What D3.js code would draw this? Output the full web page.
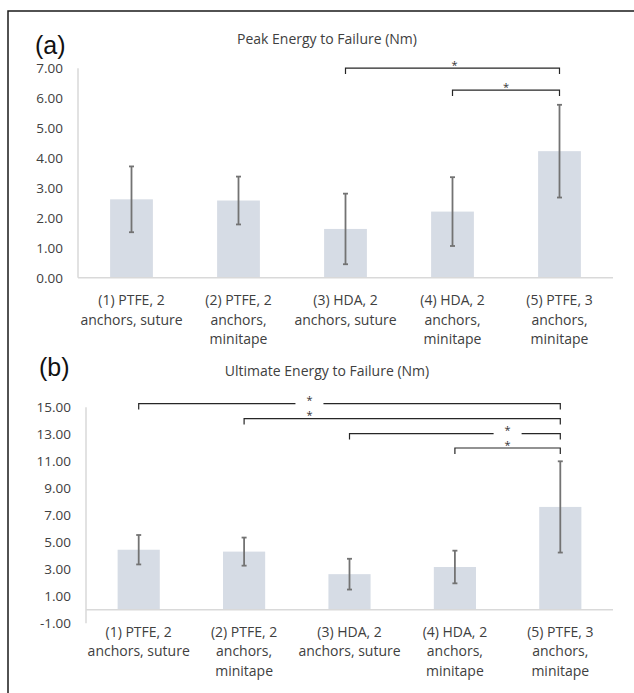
<!DOCTYPE html>
<html>
<head>
<meta charset="utf-8">
<script src="https://cdn.jsdelivr.net/npm/d3@7"></script>
<style>
  body { margin: 0; background: #fff; }
  svg text { font-family: 'Open Sans', 'Noto Sans', sans-serif; fill: #404040; }
</style>
</head>
<body>
<div id="graf"></div>
<script>
// datos
const categorias = [
  '(1) PTFE, 2\nanchors, suture',
  '(2) PTFE, 2\nanchors,\nminitape',
  '(3) HDA, 2\nanchors, suture',
  '(4) HDA, 2\nanchors,\nminitape',
  '(5) PTFE, 3\nanchors,\nminitape'
]

const tituloA = 'Peak Energy to Failure (Nm)'
const mediasA = [2.62, 2.58, 1.63, 2.21, 4.23]
const erroresA = [1.10, 0.80, 1.18, 1.15, 1.55]
const ticksA = [0, 1, 2, 3, 4, 5, 6, 7]
const compA = [[3, 5], [4, 5]]

const tituloB = 'Ultimate Energy to Failure (Nm)'
const mediasB = [4.45, 4.31, 2.64, 3.17, 7.62]
const erroresB = [1.09, 1.04, 1.14, 1.21, 3.38]
const ticksB = [-1, 1, 3, 5, 7, 9, 11, 13, 15]
const compB = [[1, 5], [2, 5], [3, 5], [4, 5]]

const ancho_total = 634
const alto_total = 693

const svg = d3.select('#graf').append('svg')
  .attr('width', ancho_total)
  .attr('height', alto_total)

// marco exterior (solo arriba e izquierda)
svg.append('path')
  .attr('d', `M8,${alto_total} V11 H${ancho_total}`)
  .attr('fill', 'none')
  .attr('stroke', '#1a1a1a')
  .attr('stroke-width', 1.5)

function dibujarPanel(p) {
  const x = d3.scaleBand()
    .domain(d3.range(categorias.length))
    .range([p.x0, p.x1])
    .paddingInner(0.6)
    .paddingOuter(0.3)
  const paso = x.step()
  const cx = i => x(i) + x.bandwidth() / 2

  const y = d3.scaleLinear()
    .domain([p.ticks[0], p.ticks[p.ticks.length - 1]])
    .range([p.yBot, p.yTop])

  const g = svg.append('g')

  // letra del panel y titulo
  g.append('text')
    .attr('x', p.letraX).attr('y', p.letraY)
    .style('font-family', "'Liberation Sans', Arial, sans-serif")
    .style('font-size', '25px')
    .style('fill', '#111')
    .text(p.letra)

  g.append('text')
    .attr('x', 327).attr('y', p.tituloY)
    .attr('text-anchor', 'middle')
    .style('font-size', '14px')
    .text(p.titulo)

  // eje y: solo etiquetas
  const yAxisCall = d3.axisLeft(y)
    .tickValues(p.ticks)
    .tickFormat(d => d.toFixed(2))
    .tickSize(0)
    .tickPadding(15)
  const yAxisGroup = g.append('g')
    .attr('transform', `translate(${p.x0}, 0)`)
    .call(yAxisCall)
  yAxisGroup.select('.domain').remove()
  yAxisGroup.selectAll('text')
    .style('font-size', '13.5px')
  yAxisGroup.attr('font-family', null)

  // lineas de los ejes
  g.append('line')
    .attr('x1', p.x0).attr('x2', p.x0)
    .attr('y1', y.range()[0]).attr('y2', y.range()[1])
    .attr('stroke', '#d9d9d9').attr('stroke-width', 1.5)

  // barras
  g.selectAll('rect.barra')
    .data(p.medias)
    .enter()
    .append('rect')
      .attr('class', 'barra')
      .attr('x', (d, i) => x(i))
      .attr('width', x.bandwidth())
      .attr('y', d => y(d))
      .attr('height', d => y(0) - y(d))
      .attr('fill', '#d6dce5')

  g.append('line')
    .attr('x1', p.x0).attr('x2', p.x1)
    .attr('y1', y(0)).attr('y2', y(0))
    .attr('stroke', '#d9d9d9').attr('stroke-width', 1.5)

  // barras de error
  const err = g.selectAll('g.err')
    .data(p.medias)
    .enter()
    .append('g')
      .attr('class', 'err')
      .attr('stroke', '#737373')
      .attr('stroke-width', 1.8)
  err.append('line')
    .attr('x1', (d, i) => cx(i)).attr('x2', (d, i) => cx(i))
    .attr('y1', (d, i) => y(d + p.errores[i]))
    .attr('y2', (d, i) => y(d - p.errores[i]))
  err.append('line')
    .attr('x1', (d, i) => cx(i) - 2.5).attr('x2', (d, i) => cx(i) + 2.5)
    .attr('y1', (d, i) => y(d + p.errores[i]))
    .attr('y2', (d, i) => y(d + p.errores[i]))
  err.append('line')
    .attr('x1', (d, i) => cx(i) - 2.5).attr('x2', (d, i) => cx(i) + 2.5)
    .attr('y1', (d, i) => y(d - p.errores[i]))
    .attr('y2', (d, i) => y(d - p.errores[i]))

  // etiquetas del eje x con varias lineas
  g.selectAll('text.cat')
    .data(categorias)
    .enter()
    .append('text')
      .attr('class', 'cat')
      .attr('text-anchor', 'middle')
      .attr('y', p.catY)
      .style('font-size', '14px')
    .selectAll('tspan')
    .data((d, i) => d.split('\n').map(t => ({ t, i })))
    .enter()
    .append('tspan')
      .attr('x', d => cx(d.i))
      .attr('dy', (d, j) => j === 0 ? 0 : 19.5)
      .text(d => d.t)

  // corchetes de significancia
  const idx5 = categorias.length - 1
  const techo = y(p.medias[idx5] + p.errores[idx5])
  const niveles = p.comp.map((c, k) => techo - p.gaps[p.comp.length - 1 - k])

  g.selectAll('path.corchete')
    .data(p.comp)
    .enter()
    .append('path')
      .attr('class', 'corchete')
      .attr('d', (c, k) => `M${cx(c[0] - 1)},${niveles[k] + 6} V${niveles[k]} H${cx(c[1] - 1)} V${niveles[k] + 6}`)
      .attr('fill', 'none')
      .attr('stroke', '#262626')
      .attr('stroke-width', 1.2)

  // hueco blanco en la linea de arriba, detras de algunas estrellas
  p.comp.forEach((c, k) => {
    if (!p.tapa[k]) return
    const sx = p.x0 + p.estrellas[k] * paso
    g.append('rect')
      .attr('x', sx - 14).attr('y', niveles[k - 1] - 2.5)
      .attr('width', 28).attr('height', 5)
      .attr('fill', '#fff')
  })

  g.selectAll('text.estrella')
    .data(p.comp)
    .enter()
    .append('text')
      .attr('class', 'estrella')
      .attr('x', (c, k) => p.x0 + p.estrellas[k] * paso)
      .attr('y', (c, k) => niveles[k] + 0.5)
      .attr('text-anchor', 'middle')
      .style('font-size', '11px')
      .style('fill', '#333')
      .text('*')
}

dibujarPanel({
  letra: '(a)', letraX: 35, letraY: 54,
  titulo: tituloA, tituloY: 44,
  medias: mediasA, errores: erroresA, ticks: ticksA, comp: compA,
  x0: 78, x1: 613, yTop: 68.3, yBot: 277.7,
  catY: 305,
  gaps: [14.7, 36.7],
  estrellas: [3.52, 4.0],
  tapa: [false, false]
})

dibujarPanel({
  letra: '(b)', letraX: 39, letraY: 376,
  titulo: tituloB, tituloY: 376,
  medias: mediasB, errores: erroresB, ticks: ticksB, comp: compB,
  x0: 86, x1: 613, yTop: 407.3, yBot: 623.3,
  catY: 636.5,
  gaps: [13.3, 27.7, 42.7, 57.7],
  estrellas: [2.12, 2.12, 4.0, 4.0],
  tapa: [false, true, false, true]
})
</script>
</body>
</html>
